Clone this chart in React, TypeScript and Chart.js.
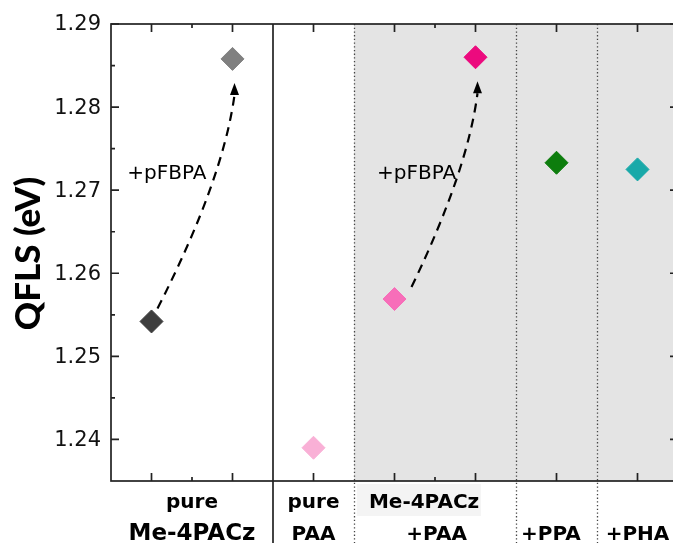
import React, { useEffect, useRef } from "react";
import { Chart, registerables } from "chart.js";

Chart.register(...registerables);

// ---- data ----
const categories = [
  "pure Me-4PACz",
  "Me-4PACz +pFBPA",
  "pure PAA",
  "Me-4PACz+PAA",
  "Me-4PACz+PAA +pFBPA",
  "Me-4PACz+PPA",
  "Me-4PACz+PHA",
];
const xPositions = [1, 3, 5, 7, 9, 11, 13];
const qfls = [1.2542, 1.2858, 1.239, 1.2569, 1.286, 1.2733, 1.2725];
const pointColors = ["#3d3d3d", "#808080", "#f9b0d6", "#f76eb9", "#ec0a7e", "#0d7d0d", "#19a9a9"];

const yMajorTicks = [1.24, 1.25, 1.26, 1.27, 1.28, 1.29];
const yMinorTicks = [1.245, 1.255, 1.265, 1.275, 1.285];
const xMajorTicks = [1, 3, 5, 7, 9, 11, 13];
const xMinorTicks = [2, 8];
const solidDividers = [4];
const dottedDividers = [6, 10, 12];
const shadedStart = 6;

// arrows: from index -> to index
const arrowFrom = [0, 3];
const arrowTo = [1, 4];
const arrowLabel = "+pFBPA";
const arrowLabelX = [0.4, 6.57];
const arrowLabelY = 1.2713;

// category labels under the axis
const row1Labels = ["pure", "pure", "Me-4PACz"];
const row1X = [2, 5, 7.73];
const row2Labels = ["Me-4PACz", "PAA", "+PAA", "+PPA", "+PHA"];
const row2X = [2, 5, 8.04, 10.86, 13];

const yTitle = "QFLS (eV)";

export default function App() {
  const ref = useRef<HTMLCanvasElement>(null);

  useEffect(() => {
    const canvas = ref.current!;
    const decor = {
      id: "decor",
      beforeDatasetsDraw(chart: any) {
        const ctx = chart.ctx as CanvasRenderingContext2D;
        const a = chart.chartArea;
        const xs = chart.scales.x;
        const ys = chart.scales.y;
        const H = chart.height;
        ctx.save();
        // shaded region
        const sx = xs.getPixelForValue(shadedStart);
        ctx.fillStyle = "#e4e4e4";
        ctx.fillRect(sx, a.top, a.right - sx, a.bottom - a.top);
        // faint box behind small label
        ctx.fillStyle = "#f4f4f4";
        ctx.fillRect(xs.getPixelForValue(6.07), a.bottom + 3, 124, 32);
        // dotted dividers
        ctx.strokeStyle = "#444";
        ctx.lineWidth = 1.3;
        ctx.setLineDash([1.3, 2.4]);
        dottedDividers.forEach((v) => {
          const px = Math.round(xs.getPixelForValue(v)) + 0.5;
          ctx.beginPath();
          ctx.moveTo(px, a.top);
          ctx.lineTo(px, H);
          ctx.stroke();
        });
        ctx.setLineDash([]);
        // arrows
        ctx.strokeStyle = "#000";
        ctx.fillStyle = "#000";
        const startOff = [
          [6, -13],
          [17, -12],
        ];
        arrowFrom.forEach((fi, k) => {
          const ti = arrowTo[k];
          const x0 = xs.getPixelForValue(xPositions[fi]);
          const y0 = ys.getPixelForValue(qfls[fi]);
          const x1 = xs.getPixelForValue(xPositions[ti]);
          const y1 = ys.getPixelForValue(qfls[ti]);
          const px0 = x0 + startOff[k][0];
          const py0 = y0 + startOff[k][1];
          const tipX = x1 + 2;
          const tipY = y1 + 24;
          const ex = tipX;
          const ey = tipY + 12;
          const cx = px0 + 0.85 * (ex - px0);
          const cy = py0 + 0.6 * (ey - py0);
          ctx.lineWidth = 2.2;
          ctx.setLineDash([9, 6.5]);
          ctx.beginPath();
          ctx.moveTo(px0, py0);
          ctx.quadraticCurveTo(cx, cy, ex, ey);
          ctx.stroke();
          ctx.setLineDash([]);
          ctx.beginPath();
          ctx.moveTo(tipX, tipY);
          ctx.lineTo(tipX - 4.5, ey);
          ctx.lineTo(tipX + 4.5, ey);
          ctx.closePath();
          ctx.fill();
          // label
          ctx.font = "20px 'DejaVu Sans'";
          ctx.textAlign = "left";
          ctx.textBaseline = "alphabetic";
          ctx.fillText(arrowLabel, xs.getPixelForValue(arrowLabelX[k]), ys.getPixelForValue(arrowLabelY));
        });
        ctx.restore();
      },
      afterDatasetsDraw(chart: any) {
        const ctx = chart.ctx as CanvasRenderingContext2D;
        const a = chart.chartArea;
        const xs = chart.scales.x;
        const ys = chart.scales.y;
        const H = chart.height;
        ctx.save();
        ctx.strokeStyle = "#222";
        ctx.lineWidth = 1.7;
        // frame
        ctx.strokeRect(a.left, a.top, a.right - a.left, a.bottom - a.top);
        // solid dividers
        solidDividers.forEach((v) => {
          const px = xs.getPixelForValue(v);
          ctx.beginPath();
          ctx.moveTo(px, a.top);
          ctx.lineTo(px, H);
          ctx.stroke();
        });
        // y ticks (left and right, inward)
        const yt = (vals: number[], len: number) => {
          vals.forEach((v) => {
            const py = ys.getPixelForValue(v);
            ctx.beginPath();
            ctx.moveTo(a.left, py);
            ctx.lineTo(a.left + len, py);
            ctx.moveTo(a.right, py);
            ctx.lineTo(a.right - len, py);
            ctx.stroke();
          });
        };
        yt(yMajorTicks, 8);
        yt(yMinorTicks, 4);
        const xt = (vals: number[], len: number) => {
          vals.forEach((v) => {
            const px = xs.getPixelForValue(v);
            ctx.beginPath();
            ctx.moveTo(px, a.bottom);
            ctx.lineTo(px, a.bottom - len);
            ctx.moveTo(px, a.top);
            ctx.lineTo(px, a.top + len);
            ctx.stroke();
          });
        };
        xt(xMajorTicks, 8);
        xt(xMinorTicks, 4);
        // y tick labels
        ctx.fillStyle = "#111";
        ctx.font = "21px 'DejaVu Sans'";
        ctx.textAlign = "right";
        ctx.textBaseline = "middle";
        yMajorTicks.forEach((v) => {
          ctx.fillText(v.toFixed(2), a.left - 10, ys.getPixelForValue(v) + 1);
        });
        // category labels
        ctx.fillStyle = "#000";
        ctx.textAlign = "center";
        ctx.textBaseline = "alphabetic";
        row1Labels.forEach((t, i) => {
          ctx.font = "bold 20px 'DejaVu Sans'";
          ctx.fillText(t, xs.getPixelForValue(row1X[i]), a.bottom + 27);
        });
        row2Labels.forEach((t, i) => {
          ctx.font = i === 0 ? "bold 23px 'DejaVu Sans'" : "bold 20px 'DejaVu Sans'";
          ctx.fillText(t, xs.getPixelForValue(row2X[i]), a.bottom + 59);
        });
        // y title
        ctx.save();
        ctx.translate(29, (a.top + a.bottom) / 2 + 1);
        ctx.rotate(-Math.PI / 2);
        ctx.font = "900 35px Lato";
        ctx.textAlign = "center";
        ctx.textBaseline = "middle";
        ctx.fillText(yTitle, 0, 0);
        ctx.restore();
        ctx.restore();
      },
    };

    const chart = new Chart(canvas, {
      type: "scatter",
      data: {
        labels: categories,
        datasets: [
          {
            label: "QFLS",
            data: xPositions.map((x, i) => ({ x, y: qfls[i] })),
            pointStyle: "rectRot",
            pointRadius: 11.5,
            pointHoverRadius: 11.5,
            pointBackgroundColor: pointColors,
            pointBorderColor: pointColors,
            pointBorderWidth: 1,
            showLine: false,
          },
        ],
      },
      options: {
        responsive: false,
        animation: false,
        devicePixelRatio: 1,
        layout: { autoPadding: false, padding: { left: 111, top: 24, right: 7, bottom: 62 } },
        plugins: { legend: { display: false }, tooltip: { enabled: false }, title: { display: false } },
        scales: {
          x: { type: "linear", min: 0, max: 14, display: false },
          y: { type: "linear", min: 1.235, max: 1.29, display: false },
        },
      },
      plugins: [decor],
    });
    return () => chart.destroy();
  }, []);

  return (
    <div
      style={{
        position: "fixed",
        left: 0,
        top: 0,
        width: 673,
        height: 543,
        overflow: "hidden",
        background: "#fff",
      }}
    >
      <div style={{ position: "absolute", left: 0, top: 0, width: 685, height: 543 }}>
        <canvas ref={ref} width={685} height={543} style={{ display: "block", width: 685, height: 543 }} />
      </div>
    </div>
  );
}
